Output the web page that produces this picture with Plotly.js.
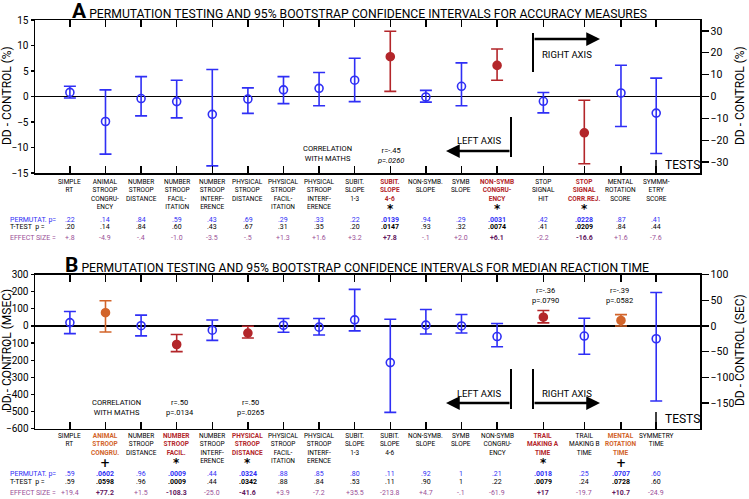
<!DOCTYPE html>
<html>
<head>
<meta charset="utf-8">
<script src="https://cdn.plot.ly/plotly-3.0.1.min.js"></script>
<style>
  body { margin: 0; background: #fff; }
  #chart { width: 749px; height: 499px; }
</style>
</head>
<body>
<div id="chart"></div>
<script>
// Panel A - accuracy (first 13 tests on left axis, last 4 on right axis)
const accLabels = [
    'SIMPLE<br>RT', 'ANIMAL<br>STROOP<br>CONGRU-<br>ENCY', 'NUMBER<br>STROOP<br>DISTANCE',
    'NUMBER<br>STROOP<br>FACIL-<br>ITATION', 'NUMBER<br>STROOP<br>INTERF-<br>ERENCE',
    'PHYSICAL<br>STROOP<br>DISTANCE', 'PHYSICAL<br>STROOP<br>FACIL-<br>ITATION',
    'PHYSICAL<br>STROOP<br>INTERF-<br>ERENCE', 'SUBIT.<br>SLOPE<br>1-3', 'SUBIT.<br>SLOPE<br>4-6',
    'NON-SYMB.<br>SLOPE', 'SYMB<br>SLOPE', 'NON-SYMB<br>CONGRU-<br>ENCY', 'STOP<br>SIGNAL<br>HIT',
    'STOP<br>SIGNAL<br>CORR.REJ.', 'MENTAL<br>ROTATION<br>SCORE', 'SYMMM-<br>ETRY<br>SCORE'
];
const accMean = [0.8, -4.9, -0.4, -1.0, -3.5, -0.5, 1.3, 1.6, 3.2, 7.8, -0.1, 2.0, 6.1, -2.2, -16.6, 1.6, -7.6];
const accHigh = [2.0, 1.3, 3.9, 3.2, 5.3, 1.7, 3.9, 4.7, 7.5, 12.8, 1.2, 6.6, 9.3, 1.8, -1.7, 14.3, 8.4];
const accLow = [-0.3, -11.3, -3.8, -4.2, -13.6, -3.3, -1.4, -1.8, -1.0, 1.0, -1.1, -1.8, 3.2, -7.5, -30.8, -13.7, -26.1];
const accStatus = ['ns', 'ns', 'ns', 'ns', 'ns', 'ns', 'ns', 'ns', 'ns', 'sig', 'ns', 'ns', 'sig', 'ns', 'sig', 'ns', 'ns'];
const accPerm = ['.22', '.14', '.84', '.59', '.43', '.69', '.29', '.33', '.22', '.0139', '.94', '.29', '.0031', '.42', '.0228', '.87', '.41'];
const accTtest = ['.20', '.14', '.84', '.60', '.43', '.67', '.31', '.35', '.20', '.0147', '.93', '.32', '.0074', '.41', '.0209', '.84', '.44'];
const accEffect = ['+.8', '-4.9', '-.4', '-1.0', '-3.5', '-.5', '+1.3', '+1.6', '+3.2', '+7.8', '-.1', '+2.0', '+6.1', '-2.2', '-16.6', '+1.6', '-7.6'];

// Panel B - median reaction time (msec on left axis, sec on right axis)
const rtLabels = [
    'SIMPLE<br>RT', 'ANIMAL<br>STROOP<br>CONGRU.', 'NUMBER<br>STROOP<br>DISTANCE',
    'NUMBER<br>STROOP<br>FACIL.', 'NUMBER<br>STROOP<br>INTERF-<br>ERENCE',
    'PHYSICAL<br>STROOP<br>DISTANCE', 'PHYSICAL<br>STROOP<br>FACIL-<br>ITATION',
    'PHYSICAL<br>STROOP<br>INTERF-<br>ERENCE', 'SUBIT.<br>SLOPE<br>1-3', 'SUBIT.<br>SLOPE<br>4-6',
    'NON-SYMB.<br>SLOPE', 'SYMB<br>SLOPE', 'NON-SYMB<br>CONGRU-<br>ENCY', 'TRAIL<br>MAKING A<br>TIME',
    'TRAIL<br>MAKING B<br>TIME', 'MENTAL<br>ROTATION<br>TIME', 'SYMMETRY<br>TIME'
];
const rtMean = [19.4, 77.2, 1.5, -108.3, -25.0, -41.6, 3.9, -7.2, 35.5, -213.8, 4.7, -0.1, -61.9, 17, -19.7, 10.7, -24.9];
const rtHigh = [84, 147, 63, -50, 35, -2, 43, 43, 213, 39, 96, 67, 14, 30, 15, 22, 65];
const rtLow = [-45, -35, -58, -150, -84, -70, -37, -53, -29, -504, -47, -41, -121, 6, -55, 0, -146];
const rtStatus = ['ns', 'trend', 'ns', 'sig', 'ns', 'sig', 'ns', 'ns', 'ns', 'ns', 'ns', 'ns', 'ns', 'sig', 'ns', 'trend', 'ns'];
const rtPerm = ['.59', '.0602', '.96', '.0009', '.44', '.0324', '.88', '.85', '.80', '.11', '.92', '1', '.21', '.0018', '.25', '.0707', '.60'];
const rtTtest = ['.59', '.0598', '.96', '.0009', '.44', '.0342', '.88', '.84', '.53', '.11', '.90', '1', '.22', '.0079', '.24', '.0728', '.60'];
const rtEffect = ['+19.4', '+77.2', '+1.5', '-108.3', '-25.0', '-41.6', '+3.9', '-7.2', '+35.5', '-213.8', '+4.7', '-.1', '-61.9', '+17', '-19.7', '+10.7', '-24.9'];

// Layout helpers
const W = 749, H = 499;
const px = (x) => x / W;
const py = (y) => 1 - y / H;
const nLeft = 13;
const slotX = [0, 1, 2, 3, 4, 5, 6, 7, 8, 9, 10, 11, 12, 13.3, 14.45, 15.48, 16.47];
const FONT = 'Roboto, Arial, sans-serif';
const NARROW = '"Liberation Sans Narrow", Roboto, Arial, sans-serif';

const colors = {
    ns: '#2f2ff5',
    sig: '#b3262a',
    trend: '#d2642a',
    eff: '#9a4f98',
    effBold: '#62175e'
};

function buildTraces(mean, high, low, status, xa, yl, yr) {
    return mean.map((m, i) => {
        const c = colors[status[i]];
        return {
            x: [slotX[i]], y: [m],
            xaxis: xa, yaxis: i < nLeft ? yl : yr,
            type: 'scatter', mode: 'markers',
            marker: {
                symbol: status[i] === 'ns' ? 'circle-open' : 'circle',
                size: 8, color: c, line: { color: c, width: 1.6 }
            },
            error_y: {
                type: 'data', symmetric: false,
                array: [high[i] - m], arrayminus: [m - low[i]],
                color: c, thickness: 1.6, width: 6
            },
            showlegend: false, hoverinfo: 'skip', cliponaxis: false
        };
    });
}

function note(x, y, text, size, color, extra) {
    return Object.assign({
        x: px(x), y: py(y), xref: 'paper', yref: 'paper',
        text: text, showarrow: false, xanchor: 'center', yanchor: 'middle',
        font: { family: FONT, size: size, color: color || '#000' }
    }, extra || {});
}

function buildTable(labels, status, perm, ttest, effect, xa, rows) {
    const out = [];
    labels.forEach((lab, i) => {
        const st = status[i];
        const bold = st !== 'ns';
        const labColor = st === 'ns' ? '#000' : colors[st];
        out.push({
            x: slotX[i], y: py(rows.label), xref: xa, yref: 'paper',
            text: bold ? '<b>' + lab + '</b>' : lab, showarrow: false,
            xanchor: 'center', yanchor: 'top',
            font: { family: FONT, size: 6.5, color: labColor }
        });
        if (bold) {
            out.push({
                x: slotX[i], y: py(rows.star), xref: xa, yref: 'paper',
                text: '<b>' + (st === 'sig' ? '*' : '+') + '</b>', showarrow: false,
                xanchor: 'center', yanchor: 'middle',
                font: { family: 'DejaVu Sans', size: 12, color: '#000' }
            });
        }
        const cells = [
            [perm[i], rows.perm, colors.ns],
            [ttest[i], rows.ttest, '#000'],
            [effect[i], rows.eff, bold ? colors.effBold : colors.eff]
        ];
        cells.forEach(([t, y, c]) => {
            out.push({
                x: slotX[i], y: py(y), xref: xa, yref: 'paper',
                text: bold ? '<b>' + t + '</b>' : t, showarrow: false,
                xanchor: 'center', yanchor: 'middle',
                font: { family: FONT, size: 7, color: c }
            });
        });
    });
    out.push(note(8, rows.perm, 'PERMUTAT. p=', 7, colors.ns, { xanchor: 'left' }));
    out.push(note(8, rows.ttest, 'T-TEST  p =', 7, '#000', { xanchor: 'left' }));
    out.push(note(8, rows.eff, 'EFFECT SIZE =', 7, colors.eff, { xanchor: 'left' }));
    return out;
}

function axisArrows(yBarTop, yBarBot, yArrow, yText) {
    const shapes = [
        { type: 'line', xref: 'paper', yref: 'paper', x0: px(511), x1: px(511), y0: py(yBarTop.left), y1: py(yBarBot.left), line: { color: '#000', width: 2 } },
        { type: 'line', xref: 'paper', yref: 'paper', x0: px(533), x1: px(533), y0: py(yBarTop.right), y1: py(yBarBot.right), line: { color: '#000', width: 2 } }
    ];
    const anns = [
        { x: px(446), y: py(yArrow.left), xref: 'paper', yref: 'paper', ax: 65, ay: 0, text: '', showarrow: true, arrowhead: 2, arrowsize: 1.1, arrowwidth: 2.5, arrowcolor: '#000' },
        { x: px(600), y: py(yArrow.right), xref: 'paper', yref: 'paper', ax: -67, ay: 0, text: '', showarrow: true, arrowhead: 2, arrowsize: 1.1, arrowwidth: 2.5, arrowcolor: '#000' },
        note(479, yText.left, 'LEFT AXIS', 9.5),
        note(567, yText.right, 'RIGHT AXIS', 9.5)
    ];
    return { shapes, anns };
}

const traces = [].concat(
    buildTraces(accMean, accHigh, accLow, accStatus, 'x', 'y', 'y2'),
    buildTraces(rtMean, rtHigh, rtLow, rtStatus, 'x2', 'y3', 'y4')
);

const xBase = {
    range: [-0.98, 17.7], domain: [px(35), px(700)],
    tickvals: slotX, ticks: 'inside', ticklen: 7, tickwidth: 1.5, tickcolor: '#000',
    showticklabels: false, showline: true, linecolor: '#000', linewidth: 1.5,
    mirror: 'ticks', showgrid: false, zeroline: false
};
const yLeftBase = {
    ticks: 'outside', ticklen: 3, tickwidth: 1.2, tickcolor: '#000',
    showline: true, linecolor: '#000', linewidth: 1.5, showgrid: false,
    zeroline: true, zerolinecolor: '#000', zerolinewidth: 1.5,
    tickfont: { family: NARROW, size: 10, color: '#000' }
};
const yRightBase = {
    side: 'right', ticks: 'outside', ticklen: 7, tickwidth: 1.2, tickcolor: '#000',
    showline: true, linecolor: '#000', linewidth: 1.5, showgrid: false, zeroline: false,
    tickfont: { family: NARROW, size: 10.5, color: '#000' }
};

const arrowsA = axisArrows({ left: 117, right: 33 }, { left: 157, right: 72 }, { left: 151, right: 39 }, { left: 141, right: 54 });
const arrowsB = axisArrows({ left: 369, right: 369 }, { left: 409, right: 409 }, { left: 403, right: 403 }, { left: 393, right: 393 });

const annotations = [].concat(
    buildTable(accLabels, accStatus, accPerm, accTtest, accEffect, 'x', { label: 176, star: 209, perm: 220, ttest: 227, eff: 238 }),
    buildTable(rtLabels, rtStatus, rtPerm, rtTtest, rtEffect, 'x2', { label: 430, star: 463, perm: 474, ttest: 482, eff: 493 }),
    arrowsA.anns, arrowsB.anns,
    [
        note(70, 11, '<b><span style="font-size:21px">A</span></b> PERMUTATION TESTING AND 95% BOOTSTRAP CONFIDENCE INTERVALS FOR ACCURACY MEASURES', 12.2, '#000', { xanchor: 'left' }),
        note(63, 265, '<b><span style="font-size:21px">B</span></b> PERMUTATION TESTING AND 95% BOOTSTRAP CONFIDENCE INTERVALS FOR MEDIAN REACTION TIME', 12.2, '#000', { xanchor: 'left' }),
        note(7, 96, 'DD - CONTROL (%)', 12, '#000', { textangle: -90 }),
        note(740, 96, 'DD - CONTROL (%)', 12, '#000', { textangle: -90 }),
        note(7, 350, 'DD - CONTROL (MSEC)', 12, '#000', { textangle: -90 }),
        note(740, 350, 'DD - CONTROL (SEC)', 12, '#000', { textangle: -90 }),
        note(663, 165, 'TESTS', 12, '#000', { xanchor: 'left' }),
        note(663, 419, 'TESTS', 12, '#000', { xanchor: 'left' }),
        note(327, 153, 'CORRELATION<br>WITH MATHS', 7.5),
        note(390, 155, 'r=-.45<br><i>p=.0260</i>', 7.5),
        note(116, 407, 'CORRELATION<br>WITH MATHS', 7.5),
        note(180, 407, 'r=.50<br>p=.0134', 7.5),
        note(250, 407, 'r=.50<br>p=.0265', 7.5),
        note(545, 295, 'r=-.36<br>p=.0790', 7.5),
        note(619, 295, 'r=-.39<br>p=.0582', 7.5)
    ]
);

const shapes = [].concat(arrowsA.shapes, arrowsB.shapes, [
    { type: 'line', xref: 'paper', yref: 'paper', x0: px(656), x1: px(656), y0: py(160), y1: py(173), line: { color: '#000', width: 1.5 } },
    { type: 'line', xref: 'paper', yref: 'paper', x0: px(656), x1: px(656), y0: py(412), y1: py(428.8), line: { color: '#000', width: 1.5 } }
]);

const layout = {
    width: W, height: H,
    margin: { l: 0, r: 0, t: 0, b: 0 },
    paper_bgcolor: '#fff', plot_bgcolor: '#fff',
    font: { family: FONT, color: '#000' },
    showlegend: false,
    xaxis: Object.assign({}, xBase, { anchor: 'y' }),
    xaxis2: Object.assign({}, xBase, { anchor: 'y3' }),
    yaxis: Object.assign({}, yLeftBase, { domain: [py(173), py(20)], range: [-15, 15], tickvals: [-15, -10, -5, 0, 5, 10, 15], anchor: 'x' }),
    yaxis2: Object.assign({}, yRightBase, { overlaying: 'y', anchor: 'x', range: [-35, 35], tickvals: [-30, -20, -10, 0, 10, 20, 30] }),
    yaxis3: Object.assign({}, yLeftBase, { domain: [py(428.8), py(274.5)], range: [-600, 300], tickvals: [-600, -500, -400, -300, -200, -100, 0, 100, 200, 300], anchor: 'x2' }),
    yaxis4: Object.assign({}, yRightBase, { overlaying: 'y3', anchor: 'x2', range: [-200, 100], tickvals: [-150, -100, -50, 0, 50, 100] }),
    annotations: annotations,
    shapes: shapes
};

Plotly.newPlot('chart', traces, layout, { staticPlot: true, displayModeBar: false });
</script>
</body>
</html>
